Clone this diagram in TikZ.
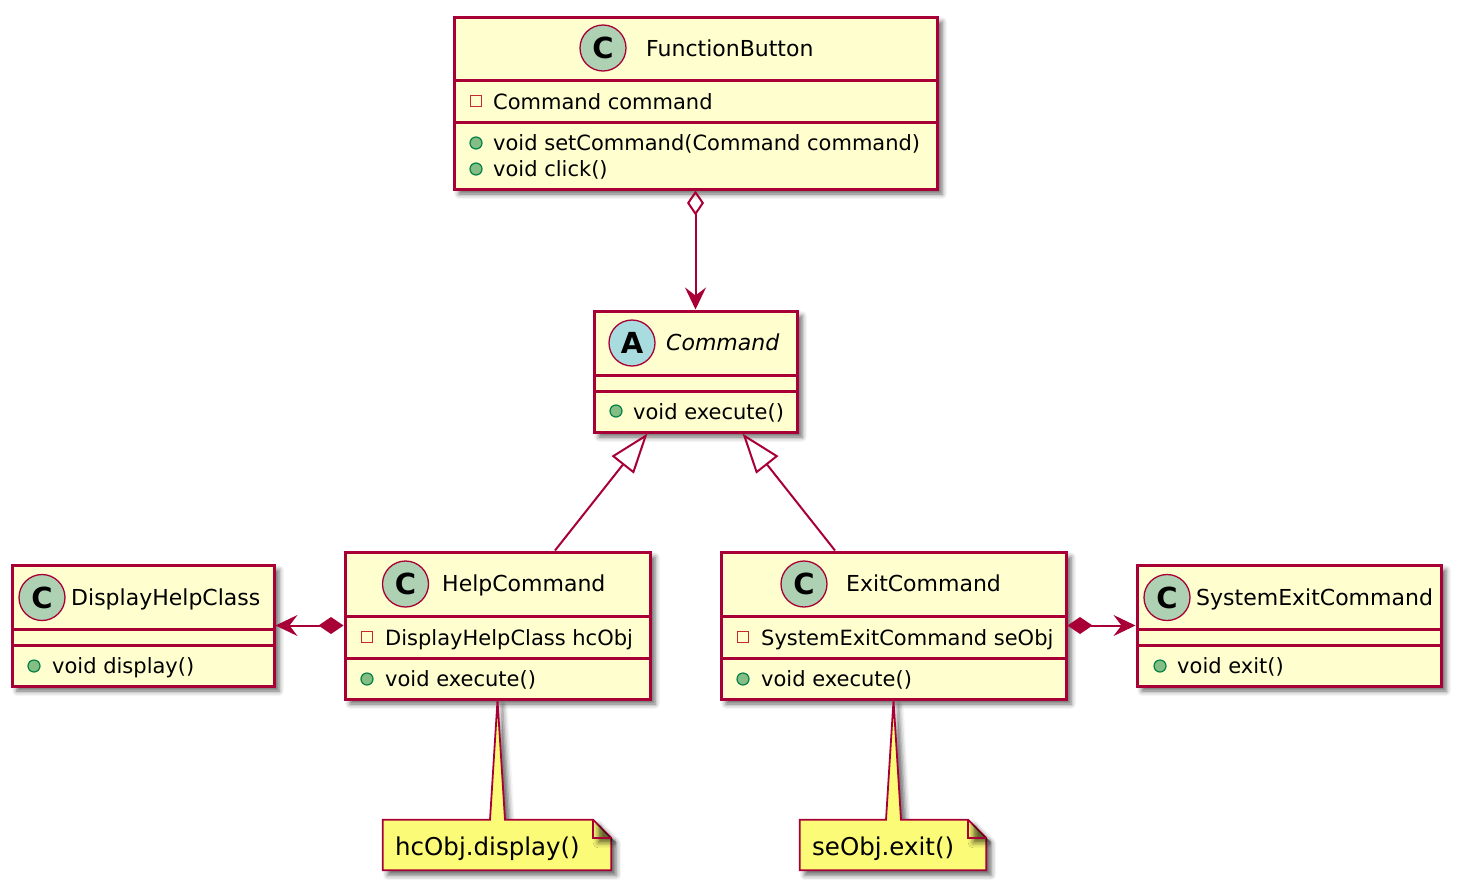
\documentclass[tikz,border=0pt]{standalone}
\usepackage{fontspec}
\setmainfont{DejaVu Sans}
\usetikzlibrary{arrows.meta,shadows.blur,calc}
\definecolor{umlborder}{HTML}{A80036}
\definecolor{umlfill}{HTML}{FEFECE}
\definecolor{spotC}{HTML}{ADD1B2}
\definecolor{spotA}{HTML}{A9DCDF}
\definecolor{notefill}{HTML}{FBFB77}
\definecolor{privred}{HTML}{C82930}
\definecolor{pubgreen}{HTML}{84BE84}
\definecolor{pubdark}{HTML}{038048}

\begin{document}
\begin{tikzpicture}[x=1pt, y=-1pt,
  classbox/.style={draw=umlborder, fill=umlfill, line width=3pt, inner sep=0pt,
    blur shadow={shadow xshift=5pt, shadow yshift=-5pt, shadow blur radius=5pt, shadow opacity=60}},
  sepline/.style={draw=umlborder, line width=3pt},
  spot/.style={circle, draw=umlborder, line width=1.3pt, minimum size=46pt, inner sep=0pt,
    font=\fontsize{29}{29}\selectfont\bfseries},
  title/.style={anchor=base west, inner sep=0pt, font=\fontsize{22}{26}\selectfont},
  member/.style={anchor=base west, inner sep=0pt, font=\fontsize{21}{26}\selectfont},
  priv/.style={rectangle, draw=privred, line width=1.2pt, minimum size=11pt, inner sep=0pt},
  pub/.style={circle, draw=pubdark, fill=pubgreen, line width=1.2pt, minimum size=12pt, inner sep=0pt},
  link/.style={draw=umlborder, line width=2pt},
  notebase/.style={inner sep=0pt},
  notebox/.style={draw=umlborder, fill=notefill, line width=1.8pt, line join=miter,
    blur shadow={shadow xshift=5pt, shadow yshift=-5pt, shadow blur radius=5pt, shadow opacity=60}},
  notetext/.style={anchor=base west, inner sep=0pt, font=\fontsize{24.5}{28}\selectfont}]

  \useasboundingbox (0,0) rectangle (1461,892);

  % Top class
  \node[classbox, minimum width=483pt, minimum height=172pt] (FB) at (695.5,103) {};
  \draw[sepline] (FB.west |- 0,80) -- (FB.east |- 0,80);
  \draw[sepline] (FB.west |- 0,122) -- (FB.east |- 0,122);
  \node[spot, fill=spotC] (FBspot) at (603,48) {C};
  \node[title] (FBname) at (646,56.7) {FunctionButton};
  \node[priv] (FBm1) at (476,101) {};
  \node[member] (FBa1) at (493,109) {Command command};
  \node[pub] (FBm2) at (476,143) {};
  \node[member] (FBo1) at (493,150) {void setCommand(Command command)};
  \node[pub] (FBm3) at (476,169) {};
  \node[member] (FBo2) at (493,176) {void click()};

  % Abstract class
  \node[classbox, minimum width=203pt, minimum height=121pt] (CMD) at (695.5,371.5) {};
  \draw[sepline] (CMD.west |- 0,375) -- (CMD.east |- 0,375);
  \draw[sepline] (CMD.west |- 0,391) -- (CMD.east |- 0,391);
  \node[spot, fill=spotA] (CMDspot) at (632,343) {A};
  \node[title, font=\fontsize{22}{26}\selectfont\itshape] (CMDname) at (666,350) {Command};
  \node[pub] (CMDm1) at (616,411) {};
  \node[member] (CMDo1) at (633,419) {void execute()};

  % Bottom row
  \node[classbox, minimum width=262pt, minimum height=121pt] (DHC) at (143,625.5) {};
  \draw[sepline] (DHC.west |- 0,629) -- (DHC.east |- 0,629);
  \draw[sepline] (DHC.west |- 0,645) -- (DHC.east |- 0,645);
  \node[spot, fill=spotC] (DHCspot) at (42,597.5) {C};
  \node[title] (DHCname) at (71,605) {DisplayHelpClass};
  \node[pub] (DHCm1) at (34,666) {};
  \node[member] (DHCo1) at (52,673) {void display()};

  \node[classbox, minimum width=305pt, minimum height=147pt] (HC) at (497.5,625.5) {};
  \draw[sepline] (HC.west |- 0,616) -- (HC.east |- 0,616);
  \draw[sepline] (HC.west |- 0,658) -- (HC.east |- 0,658);
  \node[spot, fill=spotC] (HCspot) at (405.5,584) {C};
  \node[title] (HCname) at (442,591.7) {HelpCommand};
  \node[priv] (HCm1) at (367,637) {};
  \node[member] (HCa1) at (385,645) {DisplayHelpClass hcObj};
  \node[pub] (HCm2) at (367,679) {};
  \node[member] (HCo1) at (385,686.7) {void execute()};

  \node[classbox, minimum width=345pt, minimum height=147pt] (EC) at (893.5,625.5) {};
  \draw[sepline] (EC.west |- 0,616) -- (EC.east |- 0,616);
  \draw[sepline] (EC.west |- 0,658) -- (EC.east |- 0,658);
  \node[spot, fill=spotC] (ECspot) at (804,584) {C};
  \node[title] (ECname) at (846,591.7) {ExitCommand};
  \node[priv] (ECm1) at (743,637) {};
  \node[member] (ECa1) at (761,645) {SystemExitCommand seObj};
  \node[pub] (ECm2) at (743,679) {};
  \node[member] (ECo1) at (761,686.7) {void execute()};

  \node[classbox, minimum width=304pt, minimum height=121pt] (SEC) at (1289,625.5) {};
  \draw[sepline] (SEC.west |- 0,629) -- (SEC.east |- 0,629);
  \draw[sepline] (SEC.west |- 0,645) -- (SEC.east |- 0,645);
  \node[spot, fill=spotC] (SECspot) at (1167,597.5) {C};
  \node[title] (SECname) at (1196,605) {SystemExitCommand};
  \node[pub] (SECm1) at (1160,666) {};
  \node[member] (SECo1) at (1177,673) {void exit()};

  % Notes
  \node[notebase, minimum width=228pt, minimum height=50pt] (HN) at (497,845) {};
  \draw[notebox] (HN.north west) -- ([xshift=-7pt]HN.north) -- (HC.south)
    -- ([xshift=8pt]HN.north) -- ([xshift=-18pt]HN.north east) -- ([yshift=-18pt]HN.north east)
    -- (HN.south east) -- (HN.south west) -- cycle;
  \draw[notebox, fill=none] ([xshift=-18pt]HN.north east) |- ([yshift=-18pt]HN.north east);
  \node[notetext] (HNtext) at (395,855) {hcObj.display()};

  \node[notebase, minimum width=186pt, minimum height=50pt] (SN) at (893,845) {};
  \draw[notebox] (SN.north west) -- ([xshift=-7pt]SN.north) -- (EC.south)
    -- ([xshift=8pt]SN.north) -- ([xshift=-18pt]SN.north east) -- ([yshift=-18pt]SN.north east)
    -- (SN.south east) -- (SN.south west) -- cycle;
  \draw[notebox, fill=none] ([xshift=-18pt]SN.north east) |- ([yshift=-18pt]SN.north east);
  \node[notetext] (SNtext) at (812,855) {seObj.exit()};

  % Aggregation
  \draw[link, {Diamond[open, length=25pt, width=17pt]}-{Stealth[length=22pt, width=21pt, inset=8pt]}]
    (FB.south) -- (CMD.north);

  % Generalisation
  \draw[link, -{Triangle[open, length=40pt, width=28pt]}] ([xshift=57.5pt]HC.north) -- ([xshift=-48pt]CMD.south);
  \draw[link, -{Triangle[open, length=40pt, width=28pt]}] ([xshift=-58.5pt]EC.north) -- ([xshift=47pt]CMD.south);

  % Composition
  \draw[link, {Diamond[length=25pt, width=17pt]}-{Stealth[length=22pt, width=21pt, inset=8pt]}]
    (HC.west) -- (DHC.east);
  \draw[link, {Diamond[length=25pt, width=17pt]}-{Stealth[length=22pt, width=21pt, inset=8pt]}]
    (EC.east) -- (SEC.west);

\end{tikzpicture}
\end{document}
